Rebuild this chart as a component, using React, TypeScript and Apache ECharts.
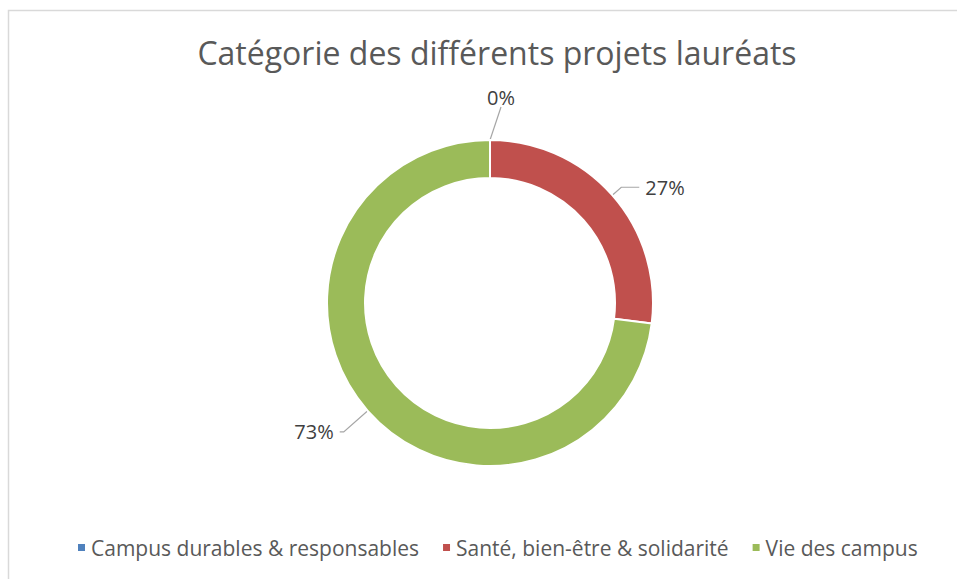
import React, { useEffect, useRef } from "react";
import * as echarts from "echarts";

const titleText = "Catégorie des différents projets lauréats";
const categories = ["Campus durables & responsables", "Santé, bien-être & solidarité", "Vie des campus"];
const values = [0, 27, 73];
const colors = ["#4F81BD", "#C0504D", "#9BBB59"];

export default function App() {
  const ref = useRef<HTMLDivElement>(null);
  useEffect(() => {
    const chart = echarts.init(ref.current!, null, { renderer: "svg" });
    const font = "'Open Sans', 'Noto Sans', sans-serif";
    const lineLens = [
      { length: 30, length2: 0 },
      { length: 12, length2: 18 },
      { length: 32, length2: 4 },
    ];
    chart.setOption({
      animation: false,
      backgroundColor: "#ffffff",
      title: {
        text: titleText,
        left: 492,
        textAlign: "center",
        top: 31,
        textStyle: { fontFamily: font, fontSize: 32, fontWeight: "normal", color: "#595959" },
      },
      legend: {
        bottom: 16,
        left: 71,
        icon: "rect",
        itemWidth: 9,
        itemHeight: 9,
        itemGap: 22,
        textStyle: { fontFamily: font, fontSize: 21, color: "#595959" },
        data: categories,
      },
      graphic: [
        {
          type: "rect",
          shape: { x: 8.5, y: 10.5, width: 1000, height: 1000 },
          style: { fill: "none", stroke: "#d9d9d9", lineWidth: 1.5 },
          silent: true,
        },
      ],
      series: [
        {
          type: "pie",
          center: [490, 303],
          radius: [125, 163],
          startAngle: 90,
          clockwise: true,
          avoidLabelOverlap: false,
          itemStyle: { borderColor: "#ffffff", borderWidth: 2 },
          label: {
            show: true,
            position: "outside",
            fontFamily: font,
            fontSize: 20,
            color: "#404040",
            distanceToLabelLine: 6,
            formatter: (p: any) => Math.round(p.percent) + "%",
          },
          labelLine: { show: true, lineStyle: { color: "#A6A6A6", width: 1.2 } },
          labelLayout: (p: any) =>
            p.dataIndex === 0
              ? {
                  x: p.labelRect.x + p.labelRect.width / 2 + 31,
                  y: p.labelRect.y + p.labelRect.height / 2 - 13,
                  align: "center",
                  verticalAlign: "middle",
                }
              : {},
          data: categories.map((c, i) => ({
            name: c,
            value: values[i],
            itemStyle: { color: colors[i] },
            labelLine: { ...lineLens[i] },
          })),
        },
      ],
    });
    return () => chart.dispose();
  }, []);
  return <div ref={ref} style={{ position: "fixed", left: 0, top: 0, width: 957, height: 579 }} />;
}
